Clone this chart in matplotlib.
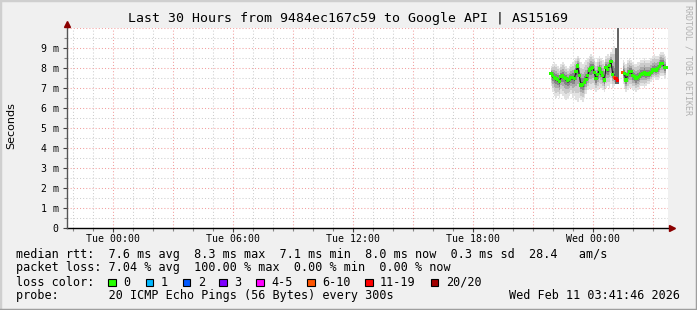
import numpy as np
import matplotlib.pyplot as plt
from matplotlib.patches import Rectangle
from matplotlib.lines import Line2D

# %% Data
# samples every 5 min, starting Tue 21:55 (hours counted from Tue 00:00)
start_min = 21 * 60 + 55
step_min = 5
nan = np.nan

median = [7.70, 7.60, 7.50, 7.45, 7.40, 7.30, 7.55, 7.60, 7.50, 7.45,
          7.35, 7.40, 7.50, 7.50, 7.45, 7.80, 8.08, 7.60, 7.13, 7.15,
          7.27, 7.40, 7.60, 7.88, 7.95, 8.00, 7.75, 7.45, 7.65, 7.93,
          7.75, 7.60, 7.38, 8.00, 7.90, 8.10, 8.30, 7.67, 7.50, 7.45,
          7.35, nan, nan, 7.75, 7.70, 7.38, 7.67, 7.80, 7.80, 7.60,
          7.55, 7.45, 7.50, 7.55, 7.65, 7.70, 7.75, 7.68, 7.70, 7.67,
          7.75, 7.88, 7.88, 7.88, 7.95, 8.05, 8.22, 8.20, 8.00, 8.00]
ping_max = [8.1, 8.2, 8.3, 8.2, 8.1, 8.0, 8.2, 8.3, 8.2, 8.1,
            8.0, 8.1, 8.2, 8.3, 8.4, 8.5, 8.6, 8.5, 8.3, 8.2,
            8.3, 8.4, 8.5, 8.6, 8.7, 8.6, 8.5, 8.3, 8.5, 8.6,
            8.5, 8.4, 8.3, 8.6, 8.7, 8.6, 8.8, 9.0, 9.1, 9.0,
            10.5, nan, nan, 8.4, 8.3, 8.2, 8.4, 8.5, 8.4, 8.3,
            8.2, 8.2, 8.3, 8.3, 8.4, 8.4, 8.5, 8.4, 8.4, 8.4,
            8.5, 8.6, 8.7, 8.6, 8.6, 8.7, 8.8, 8.8, 8.7, 8.6]
ping_min = [7.1, 6.8, 6.6, 6.5, 6.6, 6.5, 6.7, 6.6, 6.5, 6.4,
            6.5, 6.6, 6.7, 6.5, 6.6, 6.4, 6.3, 6.5, 6.4, 6.3,
            6.5, 6.7, 6.9, 7.0, 6.9, 7.0, 6.9, 6.8, 6.9, 7.0,
            7.0, 6.9, 6.8, 7.0, 7.1, 7.0, 7.2, 7.0, 7.1, 7.2,
            7.2, nan, nan, 7.2, 7.0, 6.8, 6.9, 7.0, 7.0, 6.9,
            6.9, 6.8, 6.9, 7.0, 7.1, 7.1, 7.0, 7.1, 7.2, 7.2,
            7.3, 7.4, 7.5, 7.4, 7.4, 7.5, 7.6, 7.6, 7.5, 7.5]
loss = [0] * 70
loss[38], loss[39], loss[40], loss[41], loss[42], loss[43] = 8, 12, 15, 20, 20, 8

loss_labels = ['0', '1', '2', '3', '4-5', '6-10', '11-19', '20/20']
loss_upper = [0, 1, 2, 3, 5, 10, 19, 20]
loss_colors = ['#26ff00', '#00b8ff', '#0059ff', '#7e00ff', '#ff00ff', '#ff5500', '#ff0000', '#a10000']

x_major = [0, 6, 12, 18, 24]
x_labels = ['Tue 00:00', 'Tue 06:00', 'Tue 12:00', 'Tue 18:00', 'Wed 00:00']
y_major = list(range(0, 10))
y_labels = ['0'] + [f'{v} m' for v in range(1, 10)]

title = 'Last 30 Hours from 9484ec167c59 to Google API | AS15169'
rtt_line = 'median rtt:  7.6 ms avg  8.3 ms max  7.1 ms min  8.0 ms now  0.3 ms sd  28.4   am/s'
loss_line = 'packet loss: 7.04 % avg  100.00 % max  0.00 % min  0.00 % now'
box_x = [108.3, 145.7, 182.7, 219.3, 256, 307.3, 365, 430.7]
probe_line = 'probe:       20 ICMP Echo Pings (56 Bytes) every 300s'
stamp = 'Wed Feb 11 03:41:46 2026'

# %% Figure
W, H = 697, 310
mono = 'DejaVu Sans Mono'
fs = 8.5
fig = plt.figure(figsize=(W / 100, H / 100), dpi=100, facecolor='#f0f0f0')

def fx(x):
    return x / W

def fy(y):
    return 1 - y / H

x0, x1, y0, y1 = 67, 668, 27.7, 227.7
ax = fig.add_axes([fx(x0), fy(y1), (x1 - x0) / W, (y1 - y0) / H])
ax.set_facecolor('white')
xmin, xmax = (x0 - 112.7) / 20, (x1 - 112.7) / 20
ax.set_xlim(xmin, xmax)
ax.set_ylim(0, 10)
for s in ax.spines.values():
    s.set_visible(False)

# grid
dot = (0, (1, 2))
for h in np.arange(-2, 28):
    major = h % 3 == 0
    ax.axvline(h, color='#f2a0a0' if major else '#cfcfcf', lw=0.75, ls=dot, zorder=1)
for v in np.arange(0.5, 10.01, 0.5):
    major = v == int(v)
    ax.axhline(v, color='#f2a0a0' if major else '#cfcfcf', lw=0.75, ls=dot, zorder=1)

# smoke
t = (start_min + step_min * np.arange(len(median))) / 60
med = np.array(median)
hi = np.array(ping_max)
lo = np.array(ping_min)
shades = [(1.0, '#e2e2e2'), (0.75, '#cacaca'), (0.5, '#ababab'), (0.3, '#858585'), (0.12, '#555555')]
for f, c in shades:
    ax.fill_between(t, med - f * (med - lo), med + f * (hi - med), step='mid',
                    color=c, lw=0, zorder=2)
# fewer answers -> darker smoke
half = step_min / 60 / 2
for ti, l, a, b in zip(t, loss, lo, hi):
    if 11 <= l < 20:
        ax.add_patch(Rectangle((ti - 1.3 * half, a), 2.6 * half, b - a, color='#666666', lw=0, zorder=3))

# median line with loss colours
ax.plot(t, med, color='#1a1a1a', lw=0.8, zorder=4)
pt_colors = [loss_colors[next(k for k, u in enumerate(loss_upper) if l <= u)] for l in loss]
ax.scatter(t, med, c=pt_colors, marker='s', s=6, lw=0, zorder=5)

# axes with arrows
ax.plot([xmin, xmax + 0.2], [0, 0], color='black', lw=1, clip_on=False, zorder=6)
ax.plot([xmax + 0.2], [0], marker='>', color='#8b0000', ms=4, clip_on=False, zorder=6)
ax.plot([xmin, xmin], [0, 10.2], color='#555555', lw=1, clip_on=False, zorder=6)
ax.plot([xmin], [10.2], marker='^', color='#8b0000', ms=4, clip_on=False, zorder=6)

ax.set_xticks(x_major)
ax.set_xticklabels(x_labels, family=mono, fontsize=7.1)
ax.set_xticks(np.arange(-2, 28), minor=True)
ax.set_yticks(y_major)
ax.set_yticklabels(y_labels, family=mono, fontsize=7.1)
ax.set_yticks(np.arange(0.5, 10, 1), minor=True)
ax.tick_params(which='major', length=3, width=0.8, color='#444444', pad=3)
ax.tick_params(axis='x', which='major', pad=1.5)
ax.tick_params(which='minor', length=2, width=0.8, color='#888888')

# texts
fig.text(fx(348), fy(18.5), title, family=mono, fontsize=9.5, ha='center', va='center')
fig.text(fx(11), fy(126), 'Seconds', fontsize=8, rotation=90, ha='center', va='center')
fig.text(fx(688), fy(60), 'RRDTOOL / TOBI OETIKER', family=mono, fontsize=6, rotation=-90,
         ha='center', va='center', color='#b0b0b0')

fig.text(fx(16), fy(254.3), rtt_line, family=mono, fontsize=fs, va='center')
fig.text(fx(16), fy(267.7), loss_line, family=mono, fontsize=fs, va='center')
fig.text(fx(16), fy(282.3), 'loss color:', family=mono, fontsize=fs, va='center')
for x, lab, c in zip(box_x, loss_labels, loss_colors):
    fig.patches.append(Rectangle((fx(x), fy(286.3)), 7.5 / W, 7.5 / H, transform=fig.transFigure,
                                 facecolor=c, edgecolor='black', lw=0.8))
    fig.text(fx(x + 15), fy(282.3), lab, family=mono, fontsize=fs, va='center')
fig.text(fx(16), fy(295.7), probe_line, family=mono, fontsize=fs, va='center')
fig.text(fx(680), fy(295.7), stamp, family=mono, fontsize=fs, va='center', ha='right')

# 3d frame
fig.lines.append(Line2D([0, 0, 1], [0, 1, 1], transform=fig.transFigure, color='#cfcfcf', lw=2.5))
fig.lines.append(Line2D([0, 1, 1], [0, 0, 1], transform=fig.transFigure, color='#9e9e9e', lw=2.5))

fig.savefig('out.png', dpi=100, facecolor=fig.get_facecolor())
